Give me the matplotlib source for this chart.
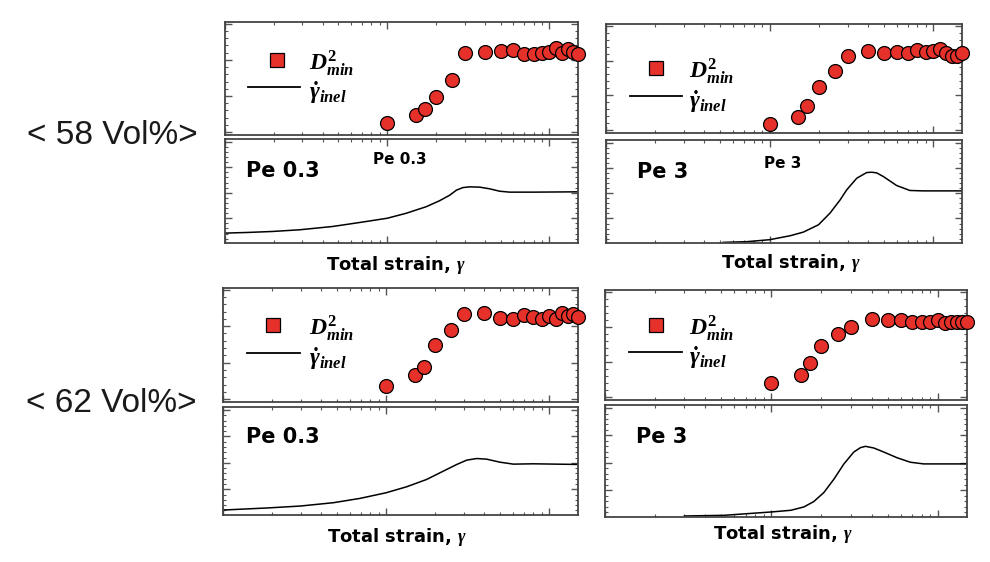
import numpy as np
import matplotlib
matplotlib.use("Agg")
import matplotlib.pyplot as plt
from matplotlib.ticker import LogLocator, NullFormatter, FixedLocator

plt.rcParams["mathtext.fontset"] = "custom"
plt.rcParams["mathtext.it"] = "Liberation Serif:italic:bold"
plt.rcParams["mathtext.rm"] = "Liberation Serif:bold"
plt.rcParams["mathtext.bf"] = "Liberation Serif:bold"

W, H = 990, 562
RED = "#e5312a"

# strain values where D2min was sampled (same for every case)
strain_pts = [1, 1.5, 1.7, 2, 2.5, 3, 4, 5, 6, 7, 8, 9, 10, 11, 12, 13, 14, 15]

# D2min (normalised)
d2_58_pe03 = [0.109, 0.177, 0.233, 0.339, 0.487, 0.723, 0.737, 0.746, 0.752, 0.717,
              0.714, 0.723, 0.737, 0.767, 0.729, 0.758, 0.737, 0.714]
d2_58_pe3 = [0.08, 0.147, 0.245, 0.42, 0.571, 0.709, 0.748, 0.73, 0.739, 0.73,
             0.761, 0.745, 0.752, 0.767, 0.73, 0.709, 0.706, 0.73]
d2_62_pe03 = [0.144, 0.235, 0.309, 0.497, 0.632, 0.768, 0.779, 0.741, 0.732, 0.762,
              0.744, 0.726, 0.756, 0.732, 0.779, 0.756, 0.774, 0.744]
d2_62_pe3 = [0.157, 0.226, 0.337, 0.494, 0.599, 0.66, 0.738, 0.726, 0.726, 0.705,
             0.705, 0.708, 0.729, 0.699, 0.705, 0.705, 0.705, 0.711]

# inelastic strain rate curves (strain, normalised value)
g_58_pe03_x = [0.1, 0.141, 0.197, 0.288, 0.462, 0.675, 1, 1.31, 1.74, 2.10, 2.43, 2.67, 2.93,
               3.22, 3.72, 4.28, 4.93, 5.69, 7.92, 14.7, 15]
g_58_pe03_y = [0.095, 0.102, 0.111, 0.127, 0.159, 0.197, 0.238, 0.286, 0.349, 0.406, 0.46, 0.508,
               0.533, 0.54, 0.537, 0.521, 0.498, 0.489, 0.489, 0.492, 0.492]
g_58_pe3_x = [0.52, 0.727, 1, 1.34, 1.61, 1.99, 2.34, 2.70, 2.96, 3.41, 3.92, 4.21, 4.51, 4.96,
              5.98, 7.2, 8.7, 14.6, 15]
g_58_pe3_y = [0.006, 0.013, 0.032, 0.071, 0.106, 0.177, 0.29, 0.419, 0.516, 0.629, 0.684, 0.687,
              0.681, 0.645, 0.558, 0.51, 0.506, 0.506, 0.506]
g_62_pe03_x = [0.1, 0.186, 0.298, 0.476, 0.693, 1, 1.34, 1.77, 2.24, 2.71, 3.12, 3.59, 4.13,
               4.99, 6.02, 7.98, 15]
g_62_pe03_y = [0.046, 0.065, 0.083, 0.114, 0.154, 0.206, 0.262, 0.329, 0.406, 0.468, 0.508, 0.523,
               0.517, 0.489, 0.471, 0.474, 0.468]
g_62_pe3_x = [0.3, 0.52, 1, 1.31, 1.57, 1.80, 2.07, 2.38, 2.73, 3.13, 3.43, 3.68, 4.13, 4.74,
              5.7, 6.85, 8.24, 15]
g_62_pe3_y = [0.009, 0.015, 0.045, 0.06, 0.09, 0.138, 0.219, 0.339, 0.474, 0.58, 0.619, 0.631,
              0.616, 0.58, 0.529, 0.489, 0.474, 0.474]

fig = plt.figure(figsize=(W / 100, H / 100), dpi=100)


def px_axes(x0, y0, x1, y1):
    return fig.add_axes([x0 / W, 1 - y1 / H, (x1 - x0) / W, (y1 - y0) / H])


def style(ax, ymajor, ystep):
    ax.set_xscale("log")
    ax.set_xlim(0.1, 15)
    ax.set_ylim(0, 1)
    ax.xaxis.set_major_locator(LogLocator(base=10))
    ax.xaxis.set_minor_locator(LogLocator(base=10, subs=np.arange(2, 10)))
    ax.xaxis.set_minor_formatter(NullFormatter())
    ax.yaxis.set_major_locator(FixedLocator(ymajor))
    ax.yaxis.set_minor_locator(FixedLocator(np.arange(ymajor[0], 1.0, ystep)))
    ax.tick_params(which="both", direction="in", top=True, right=True,
                   labelbottom=False, labelleft=False, color="#555555")
    ax.tick_params(which="major", length=5, width=1)
    ax.tick_params(which="minor", length=2.5, width=0.8)
    for s in ax.spines.values():
        s.set_color("#444444")
        s.set_linewidth(1.3)


def panel(top, bot, d2, gx, gy, leg, xlab, pe_small=None):
    at = px_axes(*top)
    style(at, [0.025, 0.345, 0.665, 0.985], 0.064)
    at.plot(strain_pts, d2, "o", ms=10, mfc=RED, mec="black", mew=0.9, clip_on=False, zorder=5)

    ab = px_axes(*bot)
    style(ab, [-0.007, 0.238, 0.483, 0.728, 0.973], 0.049)
    ab.plot(gx, gy, color="black", lw=1.1)

    # hand placed legend
    sx, sy, lx0, lx1, ly, tx = leg
    fig.lines.append(plt.Line2D([sx / W], [1 - sy / H], marker="s", ms=9.5, mfc=RED, mec="black",
                                mew=0.9, transform=fig.transFigure))
    fig.lines.append(plt.Line2D([lx0 / W, lx1 / W], [1 - ly / H] * 2, color="black", lw=1.3,
                                transform=fig.transFigure))
    fig.text(tx / W, 1 - (sy + 3) / H, r"$D^2_{min}$", fontsize=17, va="center", ha="left")
    fig.text(tx / W, 1 - (ly + 6) / H, r"$\dot{\gamma}_{inel}$", fontsize=17, va="center", ha="left")

    if pe_small:
        fig.text(pe_small[0] / W, 1 - pe_small[1] / H, pe_small[2], fontsize=11, fontweight="bold",
                 ha="center", va="center", family="DejaVu Sans")
    fig.text(xlab[0] / W, 1 - xlab[1] / H, r"Total strain, $\gamma$", fontsize=13,
             fontweight="bold", ha="center", va="center", family="DejaVu Sans")
    return at, ab


def pe_label(x, y, s):
    fig.text(x / W, 1 - y / H, s, fontsize=15, fontweight="bold", ha="left", va="center",
             family="DejaVu Sans")


panel((225, 22, 578, 135), (225, 139, 578, 243), d2_58_pe03, g_58_pe03_x, g_58_pe03_y,
      (277, 60, 248, 300, 87, 309), (396, 265), (400, 160, "Pe 0.3"))
pe_label(246, 171, "Pe 0.3")

panel((606, 24, 962, 133), (606, 140, 962, 243), d2_58_pe3, g_58_pe3_x, g_58_pe3_y,
      (656, 68, 630, 682, 96, 689), (791, 263), (783, 164, "Pe 3"))
pe_label(637, 172, "Pe 3")

panel((223, 288, 578, 402), (223, 407, 578, 515), d2_62_pe03, g_62_pe03_x, g_62_pe03_y,
      (273, 325, 247, 300, 353, 309), (397, 537))
pe_label(246, 437, "Pe 0.3")

panel((605, 290, 967, 400), (605, 405, 967, 517), d2_62_pe3, g_62_pe3_x, g_62_pe3_y,
      (656, 325, 629, 682, 352, 689), (783, 534))
pe_label(636, 437, "Pe 3")

fig.text(27 / W, 1 - 135 / H, "< 58 Vol%>", fontsize=24, family="Liberation Sans",
         color="#1a1a1a", ha="left", va="center")
fig.text(26 / W, 1 - 403 / H, "< 62 Vol%>", fontsize=24, family="Liberation Sans",
         color="#1a1a1a", ha="left", va="center")

fig.savefig("out.png", dpi=100)
